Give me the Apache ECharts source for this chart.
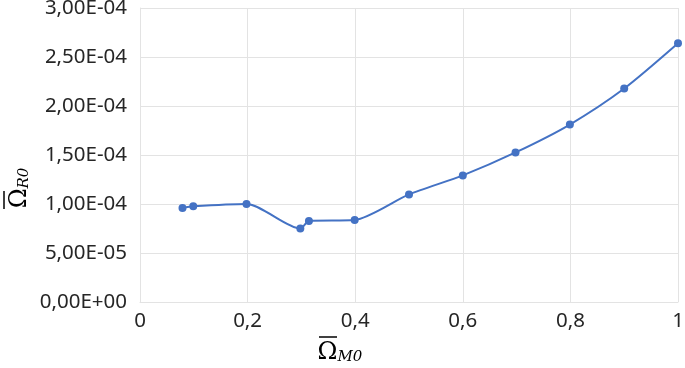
<!DOCTYPE html>
<html>
<head>
<meta charset="utf-8">
<script src="https://cdn.jsdelivr.net/npm/echarts@6/dist/echarts.min.js"></script>
<style>
  html, body { margin: 0; padding: 0; background: #fff; }
  #chart { width: 685px; height: 368px; }
</style>
</head>
<body>
<div id="chart"></div>
<script>
// x: Omega_M0, y: Omega_R0
const omegaM0 = [0.079, 0.099, 0.198, 0.298, 0.314, 0.399, 0.5, 0.6, 0.698, 0.799, 0.9, 1.0];
const omegaR0 = [0.960e-4, 0.976e-4, 1.000e-4, 0.749e-4, 0.827e-4, 0.837e-4,
  1.098e-4, 1.292e-4, 1.526e-4, 1.811e-4, 2.178e-4, 2.640e-4];

const labelFont = 'Noto Sans';
const labelColor = '#262626';
const gridColor = '#e3e3e3';

// 3,00E-04 style
function sciLabel(v) {
  if (v === 0) return '0,00E+00';
  let exp = Math.floor(Math.log10(Math.abs(v)) + 1e-9);
  let mant = v / Math.pow(10, exp);
  const sign = exp < 0 ? '-' : '+';
  const e = Math.abs(exp);
  return mant.toFixed(2).replace('.', ',') + 'E' + sign + (e < 10 ? '0' + e : e);
}

// overline bar drawn as an empty box over the Omega
const nameRich = {
  o: { width: 18, height: 1.5, lineHeight: 6, backgroundColor: '#000' },
  s: { width: 24, lineHeight: 6 },
  a: { fontFamily: 'DejaVu Serif', fontSize: 24, lineHeight: 24, color: '#000' },
  b: { fontFamily: 'DejaVu Serif', fontStyle: 'italic', fontSize: 15, color: '#000', padding: [10, 0, 0, 0] }
};

const chart = echarts.init(document.getElementById('chart'));
chart.setOption({
  animation: false,
  grid: { left: 140, right: 7, top: 8, bottom: 66, outerBoundsMode: 'none', containLabel: false },
  xAxis: {
    type: 'value',
    min: 0,
    max: 1,
    interval: 0.2,
    name: '{o| }{s| }\n{a|Ω}{b|M0}',
    nameLocation: 'middle',
    nameMoveOverlap: false,
    nameGap: 32,
    nameTextStyle: { padding: [0, 138, 0, 0], rich: nameRich },
    axisLine: { show: true, lineStyle: { color: gridColor, width: 1 } },
    axisTick: { show: false },
    splitLine: { show: true, lineStyle: { color: gridColor, width: 1 } },
    axisLabel: {
      fontFamily: labelFont,
      fontSize: 20.5,
      color: labelColor,
      margin: 9,
      formatter: v => String(Math.round(v * 10) / 10).replace('.', ',')
    }
  },
  yAxis: {
    type: 'value',
    min: 0,
    max: 3e-4,
    interval: 0.5e-4,
    name: '{o| }{s| }\n{a|Ω}{b|R0}',
    nameLocation: 'middle',
    nameMoveOverlap: false,
    nameGap: 108,
    nameRotate: 90,
    nameTextStyle: { padding: [0, 66, 0, 0], rich: nameRich },
    axisLine: { show: true, lineStyle: { color: gridColor, width: 1 } },
    axisTick: { show: false },
    splitLine: { show: true, lineStyle: { color: gridColor, width: 1 } },
    axisLabel: {
      fontFamily: labelFont,
      fontSize: 20.5,
      color: labelColor,
      margin: 13,
      formatter: sciLabel
    }
  },
  series: [{
    type: 'line',
    data: omegaM0.map((x, i) => [x, omegaR0[i]]),
    smooth: 0.25,
    symbol: 'circle',
    symbolSize: 8,
    lineStyle: { color: '#4472C4', width: 2 },
    itemStyle: { color: '#4472C4' }
  }]
});
</script>
</body>
</html>
